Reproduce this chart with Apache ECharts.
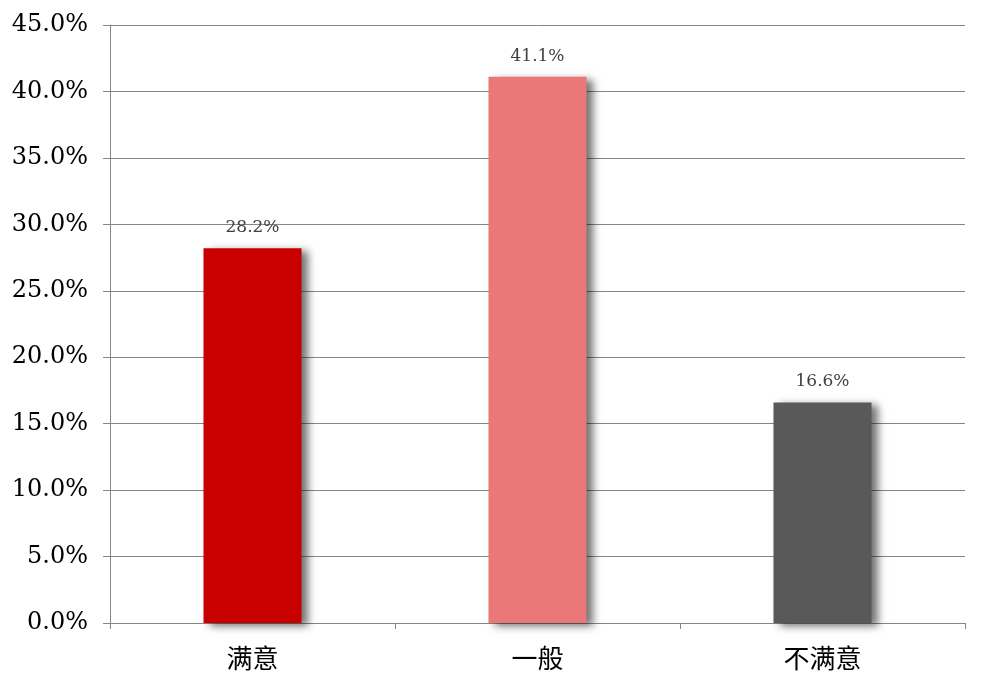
<!DOCTYPE html>
<html><head><meta charset="utf-8">
<script src="https://cdn.jsdelivr.net/npm/echarts@6/dist/echarts.min.js"></script>
<style>html,body{margin:0;padding:0;background:#fff}#c{width:989px;height:691px}</style>
</head><body><div id="c"></div>
<script>
const categories = ['满意', '一般', '不满意'];
const values = [28.2, 41.1, 16.6];
const colors = ['#C80000', '#EB7878', '#595959'];
const yMin = 0, yMax = 45, yStep = 5;

const chart = echarts.init(document.getElementById('c'));
chart.setOption({
  animation: false,
  grid: {left: 110, right: 24, top: 25, bottom: 68},
  xAxis: {
    type: 'category', data: categories,
    axisLine: {lineStyle: {color: '#868686', width: 1}},
    axisTick: {show: true, length: 6, alignWithLabel: false, lineStyle: {color: '#868686'}},
    axisLabel: {color: '#000', fontSize: 26, margin: 22, fontFamily: 'Noto Sans CJK SC'}
  },
  yAxis: {
    type: 'value', min: yMin, max: yMax, interval: yStep,
    axisLine: {show: true, lineStyle: {color: '#868686'}},
    axisTick: {show: true, length: 7, inside: false, lineStyle: {color: '#868686'}},
    splitLine: {lineStyle: {color: '#868686', width: 1}},
    axisLabel: {color: '#000', fontSize: 24, margin: 22, fontFamily: 'DejaVu Serif',
      formatter: v => v.toFixed(1) + '%'}
  },
  series: [{
    type: 'bar', barWidth: 98,
    data: values.map((v, i) => ({value: v, itemStyle: {color: colors[i]}})),
    itemStyle: {shadowColor: 'rgba(0,0,0,0.55)', shadowBlur: 8, shadowOffsetX: 6, shadowOffsetY: 3},
    label: {show: true, position: 'top', distance: 12, color: '#404040', fontSize: 17,
      fontFamily: 'DejaVu Serif', formatter: p => p.value.toFixed(1) + '%'}
  }]
});
</script></body></html>
